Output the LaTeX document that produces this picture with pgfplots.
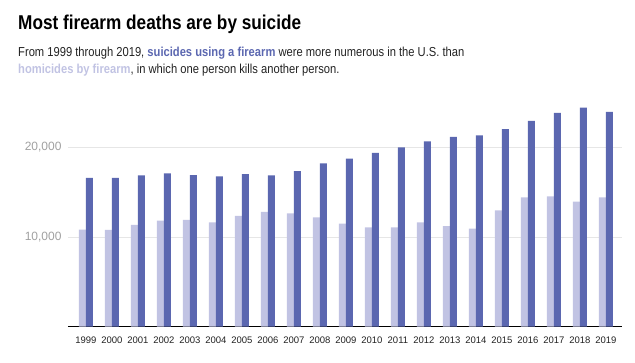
\documentclass[border=0pt]{standalone}
\usepackage{fontspec}
\setmainfont{Liberation Sans}
\newfontfamily\titlefont[FakeStretch=0.86]{Liberation Sans}
\newfontfamily\subfont[FakeStretch=0.86]{Liberation Sans}
\usepackage{pgfplots}
\pgfplotsset{compat=1.18}
\definecolor{darkbar}{HTML}{5B67B0}
\definecolor{lightbar}{HTML}{C1C3E3}
\definecolor{gridc}{HTML}{E6E6E6}
\definecolor{tickc}{HTML}{A0A0A0}
\definecolor{textc}{HTML}{222222}
\begin{document}
\begin{tikzpicture}[x=1pt,y=1pt]
\begin{axis}[
  at={(0pt,0pt)}, anchor=south west,
  scale only axis, width=554pt, height=224.2pt,
  xmin=-0.69, xmax=20.62, ymin=0, ymax=25000,
  ybar=0pt, bar width=7pt,
  axis x line*=bottom, axis y line*=left,
  x axis line style={-, black, line width=0.9pt},
  y axis line style={draw=none},
  major tick length=0pt,
  xtick={0,...,20},
  xticklabels={1999,2000,2001,2002,2003,2004,2005,2006,2007,2008,2009,2010,2011,2012,2013,2014,2015,2016,2017,2018,2019},
  ytick={10000,20000},
  yticklabels={{10,000},{20,000}},
  scaled y ticks=false,
  ymajorgrids, grid style={gridc, line width=0.8pt},
  /pgf/number format/assume math mode=true,
  xticklabel style={font=\fontsize{9.5}{10}\selectfont, text=textc, yshift=-7pt},
  yticklabel style={font=\fontsize{12}{12}\selectfont, text=tickc, anchor=east, xshift=-3pt},
]
\addplot[fill=lightbar, draw=none] coordinates {
(0,10828) (1,10801) (2,11348) (3,11829) (4,11920) (5,11624) (6,12352) (7,12791) (8,12632) (9,12179) (10,11493) (11,11078) (12,11068) (13,11622) (14,11208) (15,10945) (16,12979) (17,14415) (18,14542) (19,13958) (20,14414)};
\addplot[fill=darkbar, draw=none] coordinates {
(0,16599) (1,16586) (2,16869) (3,17108) (4,16907) (5,16750) (6,17002) (7,16883) (8,17352) (9,18223) (10,18735) (11,19392) (12,19990) (13,20666) (14,21175) (15,21334) (16,22018) (17,22938) (18,23854) (19,24432) (20,23941)};
\end{axis}
\path[use as bounding box] (-68pt,-36.3pt) rectangle (567pt,326.7pt);
\node[anchor=base west, inner sep=0] at (-50pt,296.7pt) {\titlefont\bfseries\fontsize{20}{24}\selectfont Most firearm deaths are by suicide};
\node[anchor=base west, inner sep=0, text=textc] at (-50pt,269.7pt) {\subfont\fontsize{13}{16}\selectfont From 1999 through 2019, {\bfseries\color{darkbar}suicides using a firearm} were more numerous in the U.S. than};
\node[anchor=base west, inner sep=0, text=textc] at (-50pt,252.7pt) {\subfont\fontsize{13}{16}\selectfont {\bfseries\color{lightbar}homicides by firearm}, in which one person kills another person.};
\end{tikzpicture}
\end{document}
